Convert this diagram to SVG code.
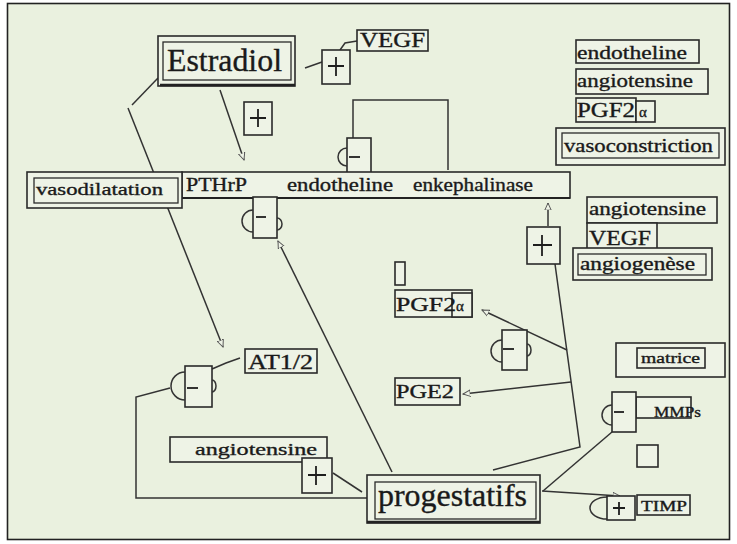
<svg xmlns="http://www.w3.org/2000/svg" width="737" height="544" viewBox="0 0 737 544">
<style>
.bx{fill:#eef3e6;stroke:#2a2a2a;stroke-width:1.6}
.bx2{fill:none;stroke:#2a2a2a;stroke-width:1.3}
.ln{fill:none;stroke:#333;stroke-width:1.5}
.sg{fill:none;stroke:#1e1e1e;stroke-width:1.8}
text{font-family:'Liberation Serif','DejaVu Serif',serif;fill:#1a1a1a;stroke:#1a1a1a;stroke-width:0.35}
</style>
<defs>
<marker id="ah" viewBox="0 0 10 10" refX="9" refY="5" markerWidth="8" markerHeight="8" orient="auto" markerUnits="userSpaceOnUse">
<path d="M0,1 L9,5 L0,9 Z" fill="#eef3e6" stroke="#555" stroke-width="1.2"/>
</marker>
</defs>
<rect x="0" y="0" width="737" height="544" fill="#ffffff"/>
<rect x="7.5" y="3.5" width="722" height="536" fill="#eaf1df" stroke="#222" stroke-width="1.6"/>

<g id="connectors">
<line class="ln" x1="305" y1="68" x2="322" y2="62"/>
<path class="ln" d="M340,50 L345,43 L357,41"/>
<line class="ln" x1="220" y1="90" x2="244" y2="160" marker-end="url(#ah)"/>
<line class="ln" x1="158" y1="78" x2="132" y2="105"/>
<line class="ln" x1="128" y1="108" x2="223" y2="347" marker-end="url(#ah)"/>
<path class="ln" d="M353,138 L353,100 L448,100 L448,170"/>
<line class="ln" x1="392" y1="472" x2="278" y2="241" marker-end="url(#ah)"/>
<line class="ln" x1="548" y1="226" x2="548" y2="203" marker-end="url(#ah)"/>
<path class="ln" d="M493,470 L580,447 L555,264"/>
<line class="ln" x1="567" y1="350" x2="482" y2="310" marker-end="url(#ah)"/>
<line class="ln" x1="571" y1="382" x2="463" y2="394" marker-end="url(#ah)"/>
<path class="ln" d="M212,369 L226,363 L240,358"/>
<path class="ln" d="M170,388 L136,397 L136,498 L367,498"/>
<line class="ln" x1="333" y1="473" x2="362" y2="492"/>
<line class="ln" x1="543" y1="491" x2="612" y2="432"/>
<line class="ln" x1="542" y1="491" x2="620" y2="496" marker-end="url(#ah)"/>
<line class="ln" x1="636" y1="414" x2="652" y2="414"/>
</g>

<g id="estradiol">
<rect class="bx" x="158" y="36" width="137" height="50" stroke-width="2.4"/>
<rect class="bx2" x="163" y="42" width="128" height="38"/>
<line x1="160" y1="85" x2="295" y2="85" stroke="#222" stroke-width="2.5"/>
<text x="167" y="71" font-size="31" textLength="115" lengthAdjust="spacingAndGlyphs">Estradiol</text>
</g>

<g id="plus-vegf">
<rect class="bx" x="322" y="50" width="28" height="34"/>
<path class="sg" d="M328,66 H344 M336,57 V76"/>
</g>

<g id="vegf-top">
<rect class="bx" x="357" y="30" width="71" height="21"/>
<text x="360" y="47" font-size="20" textLength="65" lengthAdjust="spacingAndGlyphs">VEGF</text>
</g>

<g id="plus-estradiol">
<rect class="bx" x="244" y="102" width="28" height="33"/>
<path class="sg" d="M250,118 H266 M258,109 V127"/>
</g>

<g id="endotheline-top">
<rect class="bx" x="576" y="40" width="123" height="23"/>
<text x="577" y="59" font-size="18" textLength="110" lengthAdjust="spacingAndGlyphs">endotheline</text>
</g>
<g id="angiotensine-top">
<rect class="bx" x="576" y="69" width="132" height="25"/>
<text x="577" y="87" font-size="18" textLength="116" lengthAdjust="spacingAndGlyphs">angiotensine</text>
</g>
<g id="pgf2a-top">
<rect class="bx" x="576" y="98" width="60" height="24"/>
<rect class="bx" x="636" y="101" width="19" height="21"/>
<text x="577" y="117" font-size="20" textLength="58" lengthAdjust="spacingAndGlyphs">PGF2</text>
<text x="639" y="117" font-size="15">α</text>
</g>
<g id="vasoconstriction">
<rect class="bx" x="556" y="128" width="169" height="37" stroke-width="2.2"/>
<rect class="bx2" x="562" y="133" width="157" height="25"/>
<text x="564" y="152" font-size="18" textLength="149" lengthAdjust="spacingAndGlyphs">vasoconstriction</text>
</g>

<g id="minus-bracket">
<rect class="bx" x="347" y="138" width="24" height="40"/>
<path class="ln" d="M347,148 A9,9 0 0 0 347,166"/>
<path class="sg" d="M349,157 H360"/>
</g>

<g id="bar">
<rect class="bx" x="182" y="172" width="388" height="26"/>
<line x1="182" y1="198" x2="570" y2="198" stroke="#222" stroke-width="2.2"/>
<text x="186" y="191" font-size="18" textLength="61" lengthAdjust="spacingAndGlyphs">PTHrP</text>
<text x="287" y="191" font-size="18" textLength="106" lengthAdjust="spacingAndGlyphs">endotheline</text>
<text x="413" y="191" font-size="18" textLength="120" lengthAdjust="spacingAndGlyphs">enkephalinase</text>
</g>

<g id="vasodilatation">
<rect class="bx" x="27" y="172" width="155" height="36" stroke-width="2.2"/>
<rect class="bx2" x="34" y="178" width="144" height="25"/>
<text x="36" y="195" font-size="17" textLength="127" lengthAdjust="spacingAndGlyphs">vasodilatation</text>
</g>

<g id="minus-pthrp">
<rect class="bx" x="253" y="197" width="24" height="41"/>
<path class="ln" d="M253,210 A11,11 0 0 0 253,232"/>
<path class="ln" d="M277,218 A5,6 0 0 1 277,230"/>
<path class="sg" d="M256,217 H266"/>
</g>

<g id="plus-enk">
<rect class="bx" x="527" y="227" width="33" height="37"/>
<path class="sg" d="M533,245 H552 M542,235 V256"/>
</g>

<g id="angiotensine-right">
<rect class="bx" x="587" y="197" width="130" height="26"/>
<text x="589" y="215" font-size="18" textLength="117" lengthAdjust="spacingAndGlyphs">angiotensine</text>
</g>
<g id="vegf-right">
<rect class="bx" x="587" y="223" width="70" height="26"/>
<text x="589" y="245" font-size="21" textLength="62" lengthAdjust="spacingAndGlyphs">VEGF</text>
</g>
<g id="angiogenese">
<rect class="bx" x="573" y="248" width="139" height="32" stroke-width="2.2"/>
<rect class="bx2" x="578" y="254" width="128" height="21"/>
<text x="580" y="270" font-size="18" textLength="115" lengthAdjust="spacingAndGlyphs">angiogenèse</text>
</g>

<g id="small-rect">
<rect class="bx" x="395" y="262" width="10" height="23"/>
</g>
<g id="pgf2a-mid">
<rect class="bx" x="395" y="290" width="77" height="27"/>
<rect class="bx" x="452" y="293" width="20" height="24"/>
<text x="396" y="311" font-size="19" textLength="60" lengthAdjust="spacingAndGlyphs">PGF2</text>
<text x="456" y="311" font-size="15">α</text>
</g>
<g id="minus-pgf">
<rect class="bx" x="502" y="330" width="25" height="40"/>
<path class="ln" d="M502,340 A11,11 0 0 0 502,362"/>
<path class="ln" d="M527,344 A4,6 0 0 1 527,356"/>
<path class="sg" d="M503,349 H514"/>
</g>
<g id="pge2">
<rect class="bx" x="395" y="378" width="65" height="27"/>
<text x="396" y="398" font-size="19" textLength="58" lengthAdjust="spacingAndGlyphs">PGE2</text>
</g>

<g id="at12">
<rect class="bx" x="245" y="349" width="72" height="24"/>
<text x="248" y="369" font-size="20" textLength="65" lengthAdjust="spacingAndGlyphs">AT1/2</text>
</g>
<g id="minus-at">
<rect class="bx" x="185" y="366" width="27" height="41"/>
<path class="ln" d="M185,372 A14,14 0 0 0 185,400"/>
<path class="ln" d="M212,380 A4,6 0 0 1 212,392"/>
<path class="sg" d="M187,388 H198"/>
</g>

<g id="angiotensine-bottom">
<rect class="bx" x="170" y="437" width="157" height="25"/>
<text x="195" y="455" font-size="17" textLength="122" lengthAdjust="spacingAndGlyphs">angiotensine</text>
</g>
<g id="plus-bottom">
<rect class="bx" x="302" y="458" width="30" height="35"/>
<path class="sg" d="M308,475 H326 M316,466 V485"/>
</g>

<g id="progestatifs">
<rect class="bx" x="367" y="475" width="173" height="48" stroke-width="2.4"/>
<rect class="bx2" x="375" y="482" width="161" height="37"/>
<line x1="367" y1="522" x2="540" y2="522" stroke="#222" stroke-width="2.5"/>
<text x="378" y="506" font-size="31" textLength="149" lengthAdjust="spacingAndGlyphs">progestatifs</text>
</g>

<g id="matrice">
<rect class="bx" x="616" y="343" width="109" height="34"/>
<rect class="bx" x="637" y="348" width="68" height="20" stroke-width="2"/>
<text x="641" y="363" font-size="14" textLength="59" lengthAdjust="spacingAndGlyphs">matrice</text>
</g>
<g id="mmps">
<rect class="bx" x="636" y="397" width="55" height="21"/>
<text x="654" y="417" font-size="14" textLength="47" lengthAdjust="spacingAndGlyphs">MMPs</text>
</g>
<g id="minus-mmps">
<rect class="bx" x="612" y="392" width="24" height="40"/>
<path class="ln" d="M612,405 A10,10 0 0 0 612,425"/>
<path class="sg" d="M614,412 H624"/>
</g>
<g id="empty-square">
<rect class="bx" x="637" y="445" width="21" height="22"/>
</g>
<g id="plus-timp">
<ellipse class="ln" cx="607" cy="508" rx="17" ry="11"/>
<rect class="bx" x="607" y="496" width="28" height="24"/>
<path class="sg" d="M613,508 H625 M619,502 V515"/>
</g>
<g id="timp">
<rect class="bx" x="637" y="495" width="53" height="20" stroke-width="2"/>
<text x="641" y="511" font-size="14" textLength="46" lengthAdjust="spacingAndGlyphs">TIMP</text>
</g>
</svg>
